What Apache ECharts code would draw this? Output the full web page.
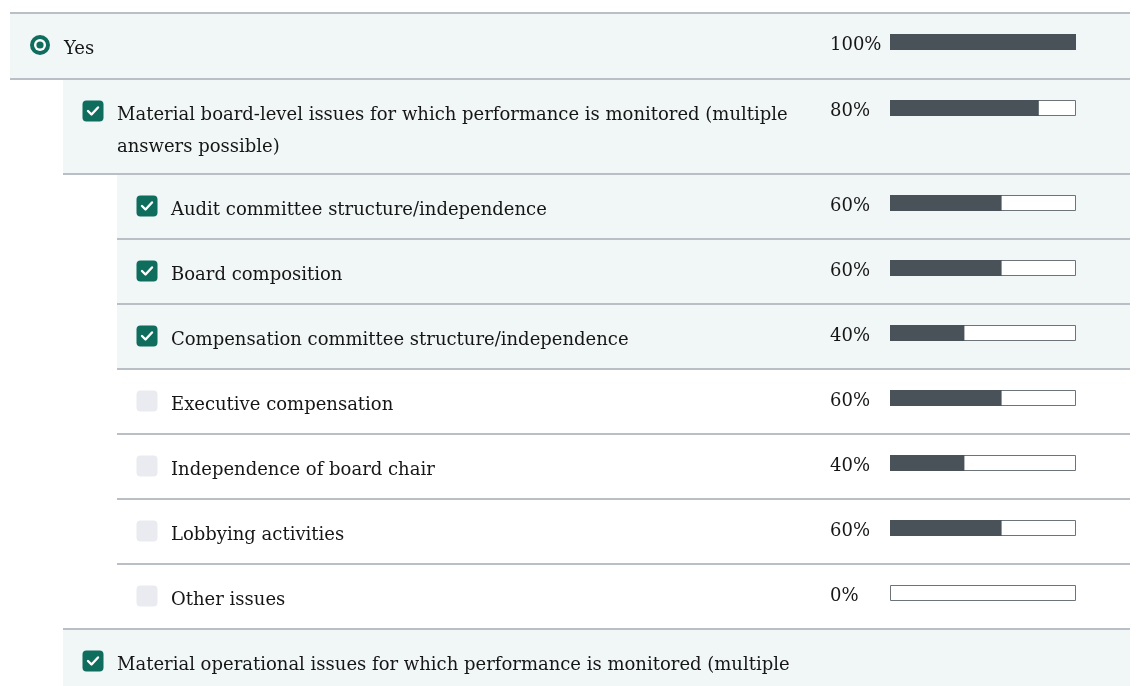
<!DOCTYPE html>
<html><head><meta charset="utf-8">
<script src="https://cdn.jsdelivr.net/npm/echarts@6/dist/echarts.min.js"></script>
<style>html,body{margin:0;padding:0;background:#fff}#c{width:1137px;height:686px}</style>
</head><body><div id="c"></div>
<script>
// ---- data ----
const labels = [
  "Yes",
  "Material board-level issues for which performance is monitored (multiple answers possible)",
  "Audit committee structure/independence",
  "Board composition",
  "Compensation committee structure/independence",
  "Executive compensation",
  "Independence of board chair",
  "Lobbying activities",
  "Other issues",
  "Material operational issues for which performance is monitored (multiple answers possible)"
];
const values = [100, 80, 60, 60, 40, 60, 40, 60, 0, null];
const checked = [true, true, true, true, true, false, false, false, false, true];
const levels = [0, 1, 2, 2, 2, 2, 2, 2, 2, 1];

// ---- layout ----
const rowHeights = [66, 95, 65, 65, 65, 65, 65, 65, 65, 70];
const firstTop = 13;
const rowTops = [];
{ let t = firstTop; for (const h of rowHeights) { rowTops.push(t); t += h; } }
const indentX = [10, 63, 117];
const rightX = 1130;
const pctX = 830;
const FONT = '"DejaVu Serif", serif';
const FS = 18;
const TEAL = '#0f6d5d';
const LIGHT = '#f1f6f6';
const LINE = '#b9bfc4';

const rows = labels.map((l, i) => [values[i] == null ? 0 : values[i], i]);

function yPix(api, v) { return api.coord([0, v])[1]; }

function renderBg(params, api) {
  const i = api.value(1);
  const top = yPix(api, rowTops[i]);
  const bot = yPix(api, rowTops[i] + rowHeights[i]);
  const x0 = indentX[levels[i]];
  const children = [{
    type: 'rect',
    shape: { x: x0, y: top, width: rightX - x0, height: bot - top },
    style: { fill: checked[i] ? LIGHT : '#ffffff' }
  }];
  children.push({ type: 'line', shape: { x1: x0, y1: top, x2: rightX, y2: top }, style: { stroke: LINE, lineWidth: 2 } });
  if (i < labels.length - 1)
    children.push({ type: 'line', shape: { x1: x0, y1: bot, x2: rightX, y2: bot }, style: { stroke: LINE, lineWidth: 2 } });
  return { type: 'group', children };
}

function renderRow(params, api) {
  const i = api.value(1);
  const lvl = levels[i];
  const x0 = indentX[lvl];
  const top = rowTops[i];
  const iconCx = x0 + 30;
  const iconCy = yPix(api, top + 32);
  const textX = x0 + 54;
  const children = [];
  if (lvl === 0) {
    children.push({ type: 'circle', shape: { cx: iconCx, cy: iconCy, r: 10 }, style: { fill: TEAL } });
    children.push({ type: 'circle', shape: { cx: iconCx, cy: iconCy, r: 6 }, style: { fill: '#ffffff' } });
    children.push({ type: 'circle', shape: { cx: iconCx, cy: iconCy, r: 3.6 }, style: { fill: TEAL } });
  } else {
    children.push({ type: 'rect', shape: { x: iconCx - 10.5, y: iconCy - 10.5, width: 21, height: 21, r: 4 },
      style: { fill: checked[i] ? TEAL : '#e9ebf0' } });
    if (checked[i]) {
      children.push({ type: 'polyline', shape: { points: [[iconCx - 5, iconCy], [iconCx - 1.5, iconCy + 3.5], [iconCx + 5, iconCy - 3.5]] },
        style: { stroke: '#ffffff', lineWidth: 2.4, fill: null, lineCap: 'round', lineJoin: 'round' } });
    }
  }
  children.push({
    type: 'text',
    style: {
      x: textX, y: yPix(api, top + 36) - 16, text: labels[i],
      font: FS + 'px ' + FONT, fill: '#161616',
      width: pctX - textX - 20, overflow: 'break', lineHeight: 32,
      verticalAlign: 'top', align: 'left'
    }
  });
  if (values[i] != null) {
    const by = yPix(api, top + 29);
    const p0 = api.coord([0, top + 29]);
    const p100 = api.coord([100, top + 29]);
    const pv = api.coord([api.value(0), top + 29]);
    children.push({ type: 'text', style: { x: pctX, y: by + 3, text: values[i] + '%', font: FS + 'px ' + FONT, fill: '#161616', verticalAlign: 'middle', align: 'left' } });
    children.push({ type: 'rect', shape: { x: p0[0] + 0.5, y: Math.round(by - 8) + 0.5, width: p100[0] - p0[0] - 1, height: 15 },
      style: { fill: '#ffffff', stroke: '#6d7479', lineWidth: 1 } });
    if (api.value(0) > 0)
      children.push({ type: 'rect', shape: { x: p0[0], y: Math.round(by - 8), width: pv[0] - p0[0], height: 16 },
        style: { fill: '#4a5259' } });
  }
  return { type: 'group', children };
}

const chart = echarts.init(document.getElementById('c'), null, { renderer: 'canvas' });
chart.setOption({
  animation: false,
  backgroundColor: '#ffffff',
  grid: { left: 890, right: 1137 - 1076, top: 0, bottom: 0, containLabel: false },
  xAxis: { type: 'value', min: 0, max: 100, show: false },
  yAxis: { type: 'value', min: 0, max: 686, inverse: true, show: false },
  series: [
    { type: 'custom', renderItem: renderBg, data: rows, clip: false, z: 1, silent: true },
    { type: 'custom', renderItem: renderRow, data: rows, clip: false, z: 2, silent: true }
  ]
});
</script></body></html>
